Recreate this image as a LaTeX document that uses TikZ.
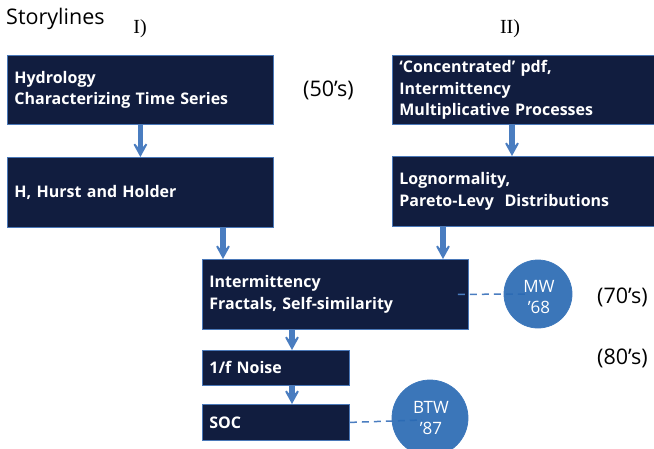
\documentclass[tikz,border=0pt]{standalone}
\usepackage{fontspec}
\setmainfont{Open Sans}
\newfontfamily\serifF{Liberation Serif}
\usetikzlibrary{arrows.meta,calc}
\definecolor{boxfill}{HTML}{111D3F}
\definecolor{boxline}{HTML}{4A78B8}
\definecolor{arrowc}{HTML}{4A7DC0}
\definecolor{circfill}{HTML}{2A6AB3}
\definecolor{circline}{HTML}{3D78BC}
\begin{document}
\begin{tikzpicture}[x=1pt,y=-1pt,
  stepbox/.style={draw=boxline, line width=0.8pt, fill=boxfill, text=white,
    font=\fontsize{16}{21.5}\selectfont\bfseries, align=left,
    inner xsep=7pt, inner ysep=0pt, anchor=north west},
  flowarrow/.style={draw=arrowc, line width=5.5pt,
    -{Stealth[length=20pt,width=22pt,inset=13pt]}},
  dashline/.style={draw=arrowc, line width=1.5pt, dash pattern=on 7pt off 5pt},
  refcirc/.style={circle, draw=circline, line width=0.8pt, fill=circfill,
    fill opacity=0.92, text opacity=1, inner sep=0pt},
  circtext/.style={text=white, align=center, inner sep=0pt,
    font=\fontsize{17}{21}\selectfont},
  plain/.style={font=\fontsize{21.5}{24}\selectfont, text=black, inner sep=0pt},
  roman/.style={font=\serifF\fontsize{20}{24}\selectfont, text=black, inner sep=0pt}]
\useasboundingbox (0,0) rectangle (654,448);
\clip (0,0) rectangle (654,448);

\node[plain, anchor=west] (title) at (6,19) {Storylines};
\node[roman] (one) at (140,29) {I)};
\node[roman] (two) at (510,29) {II)};

\node[stepbox, minimum width=266pt, minimum height=69pt, text width=252pt] (A) at (7,55)
  {Hydrology\\Characterizing Time Series};
\node[stepbox, minimum width=266pt, minimum height=70pt, text width=252pt] (B) at (7,157)
  {H, Hurst and Holder};
\node[stepbox, minimum width=264pt, minimum height=69pt, text width=250pt] (C) at (392,55)
  {‘Concentrated’ pdf,\\Intermittency\\Multiplicative Processes};
\node[stepbox, minimum width=264pt, minimum height=70pt, text width=250pt] (D) at (392,156)
  {Lognormality,\\Pareto-Levy\ \ Distributions};
\node[stepbox, minimum width=266pt, minimum height=70pt, text width=252pt] (E) at (202,259)
  {Intermittency\\Fractals, Self-similarity};
\node[stepbox, minimum width=147pt, minimum height=35pt, text width=133pt] (F) at (202,350)
  {1/f Noise};
\node[stepbox, minimum width=147pt, minimum height=36pt, text width=133pt] (G) at (202,404)
  {SOC};

\node[plain, anchor=west] (y50) at (303,90) {(50’s)};
\node[plain, anchor=west] (y70) at (597,297) {(70’s)};
\node[plain, anchor=west] (y80) at (597,358) {(80’s)};

\draw[flowarrow] (A.south) -- (B.north);
\draw[flowarrow] ($(B.south west)+(216,0)$) -- ($(E.north west)+(21,0)$);
\draw[flowarrow] ($(C.south west)+(120,0)$) -- ($(D.north west)+(120,0)$);
\draw[flowarrow] ($(D.south west)+(51,0)$) -- ($(E.north west)+(241,0)$);
\draw[flowarrow] ($(E.south west)+(90,0)$) -- ($(F.north west)+(90,0)$);
\draw[flowarrow] ($(F.south west)+(90,0)$) -- ($(G.north west)+(90,0)$);

\coordinate (mwc) at (538,294);
\coordinate (btwc) at (430,418);
\draw[dashline] ($(E.east)+(-11,0)$) -- ($(mwc)+(-12,0)$);
\draw[dashline] (G.east) -- ($(btwc)+(-8,2)$);
\node[refcirc, minimum size=68pt] (MW) at (mwc) {};
\node[refcirc, minimum size=76pt] (BTW) at (btwc) {};
\node[circtext] (MWt) at ($(MW.center)+(1,3)$) {MW\\’68};
\node[circtext] (BTWt) at ($(BTW.center)+(1,0)$) {BTW\\’87};
\end{tikzpicture}
\end{document}
